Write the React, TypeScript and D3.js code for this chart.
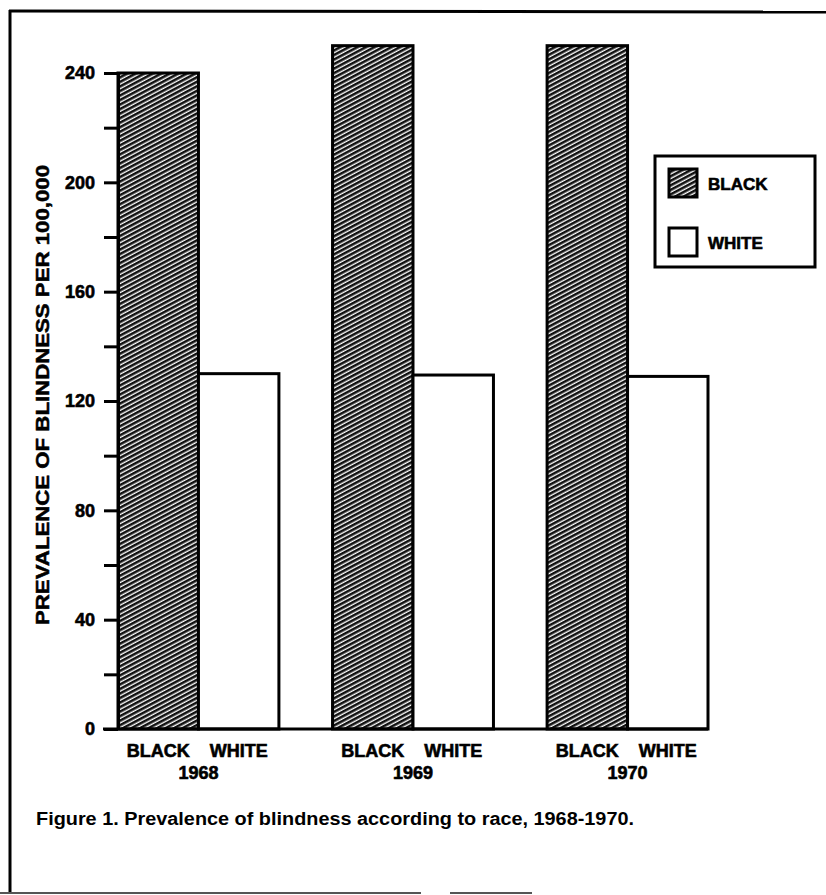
import { useEffect, useRef } from 'react';
import * as d3 from 'd3';

const years = ['1968', '1969', '1970'];
const races = ['BLACK', 'WHITE'];
const blackValues = [240, 250, 250];
const whiteValues = [130, 129.5, 129];
const yTicks = [0, 20, 40, 60, 80, 100, 120, 140, 160, 180, 200, 220, 240];
const yLabelTicks = [0, 40, 80, 120, 160, 200, 240];
const yTitle = 'PREVALENCE OF BLINDNESS PER 100,000';
const caption = 'Figure 1. Prevalence of blindness according to race, 1968-1970.';

const FONT = '"Liberation Sans", Arial, Helvetica, sans-serif';

const App = () => {
  const svgRef = useRef<SVGSVGElement>(null);

  useEffect(() => {
    const svg = d3.select(svgRef.current);
    svg.selectAll('*').remove();

    const width = 826;
    const height = 895;

    svg.attr('width', width).attr('height', height).style('background', '#fff');

    // hatch pattern for black bars
    const defs = svg.append('defs');
    const pat = defs
      .append('pattern')
      .attr('id', 'hatch')
      .attr('patternUnits', 'userSpaceOnUse')
      .attr('width', 4)
      .attr('height', 4)
      .attr('patternTransform', 'rotate(-28)');
    pat.append('rect').attr('width', 4).attr('height', 4).attr('fill', '#fff');
    pat.append('rect').attr('width', 4).attr('height', 2.6).attr('fill', '#111');

    // frame
    svg.append('line').attr('x1', 9).attr('x2', 826).attr('y1', 11).attr('y2', 12)
      .attr('stroke', '#000').attr('stroke-width', 3);
    svg.append('line').attr('x1', 10).attr('x2', 10).attr('y1', 10).attr('y2', 893)
      .attr('stroke', '#000').attr('stroke-width', 3);
    svg.append('line').attr('x1', 0).attr('x2', 421).attr('y1', 893).attr('y2', 893)
      .attr('stroke', '#555').attr('stroke-width', 2);
    svg.append('line').attr('x1', 450).attr('x2', 532).attr('y1', 893).attr('y2', 893)
      .attr('stroke', '#555').attr('stroke-width', 2);

    const y = d3.scaleLinear().domain([0, 240]).range([729, 73]);
    const x0 = d3.scaleBand().domain(years).range([118, 708]).paddingInner(0.25).paddingOuter(0);
    const x1 = d3.scaleBand().domain(races).range([0, x0.bandwidth()]).padding(0);

    const rows = years.map((yr, i) => ({ year: yr, BLACK: blackValues[i], WHITE: whiteValues[i] }));

    // bars
    const groups = svg
      .selectAll('.grp')
      .data(rows)
      .enter()
      .append('g')
      .attr('class', 'grp')
      .attr('transform', d => `translate(${x0(d.year)},0)`);

    groups
      .selectAll('rect')
      .data(d => races.map(r => ({ race: r, value: d[r as 'BLACK' | 'WHITE'] })))
      .enter()
      .append('rect')
      .attr('x', d => x1(d.race)!)
      .attr('y', d => y(d.value))
      .attr('width', x1.bandwidth())
      .attr('height', d => y(0) - y(d.value))
      .attr('fill', d => (d.race === 'BLACK' ? 'url(#hatch)' : '#fff'))
      .attr('stroke', '#000')
      .attr('stroke-width', 3);

    // y axis
    const yAxis = d3
      .axisLeft(y)
      .tickValues(yTicks)
      .tickSize(14)
      .tickSizeOuter(0)
      .tickPadding(9)
      .tickFormat(d => (yLabelTicks.includes(d as number) ? String(d) : ''));

    const ag = svg.append('g').attr('transform', 'translate(118,0)').call(yAxis);
    ag.select('.domain').attr('stroke', '#000').attr('stroke-width', 3);
    ag.selectAll('.tick line').attr('stroke', '#000').attr('stroke-width', 3);
    ag.selectAll('.tick text')
      .attr('font-family', FONT)
      .attr('font-weight', 'bold')
      .attr('font-size', 18)
      .attr('fill', '#000')
      .attr('stroke', '#000')
      .attr('stroke-width', 0.6);

    // baseline
    svg.append('line')
      .attr('x1', 103)
      .attr('x2', x0(years[years.length - 1])! + x0.bandwidth())
      .attr('y1', y(0))
      .attr('y2', y(0))
      .attr('stroke', '#000')
      .attr('stroke-width', 3);

    // y title
    svg.append('text')
      .attr('transform', 'translate(49,395) rotate(-90)')
      .attr('text-anchor', 'middle')
      .attr('font-family', FONT)
      .attr('font-weight', 'bold')
      .attr('font-size', 18)
      .attr('stroke', '#000')
      .attr('stroke-width', 0.5)
      .attr('textLength', 460)
      .attr('lengthAdjust', 'spacingAndGlyphs')
      .text(yTitle);

    // category labels
    groups
      .selectAll('.race-label')
      .data(races)
      .enter()
      .append('text')
      .attr('class', 'race-label')
      .attr('x', d => x1(d)! + x1.bandwidth() / 2)
      .attr('y', 757)
      .attr('text-anchor', 'middle')
      .attr('font-family', FONT)
      .attr('font-weight', 'bold')
      .attr('font-size', 18)
      .attr('stroke', '#000')
      .attr('stroke-width', 0.6)
      .text(d => d);

    groups
      .append('text')
      .attr('x', x0.bandwidth() / 2)
      .attr('y', 779)
      .attr('text-anchor', 'middle')
      .attr('font-family', FONT)
      .attr('font-weight', 'bold')
      .attr('font-size', 18)
      .attr('stroke', '#000')
      .attr('stroke-width', 0.6)
      .text(d => d.year);

    // legend
    const lg = svg.append('g').attr('transform', 'translate(655,156)');
    lg.append('rect').attr('width', 160).attr('height', 111)
      .attr('fill', '#fff').attr('stroke', '#000').attr('stroke-width', 3);
    races.forEach((r, i) => {
      lg.append('rect')
        .attr('x', 14)
        .attr('y', 13 + i * 59)
        .attr('width', 28)
        .attr('height', 28)
        .attr('fill', r === 'BLACK' ? 'url(#hatch)' : '#fff')
        .attr('stroke', '#000')
        .attr('stroke-width', 3);
      lg.append('text')
        .attr('x', 53)
        .attr('y', 34 + i * 59)
        .attr('font-family', FONT)
        .attr('font-weight', 'bold')
        .attr('font-size', 17)
        .attr('stroke', '#000')
        .attr('stroke-width', 0.6)
        .text(r);
    });

    // caption
    svg.append('text')
      .attr('x', 36)
      .attr('y', 825)
      .attr('font-family', FONT)
      .attr('font-weight', 'bold')
      .attr('font-size', 18)
      .attr('textLength', 598)
      .attr('lengthAdjust', 'spacingAndGlyphs')
      .text(caption);
  }, []);

  return (
    <div style={{ position: 'absolute', left: 0, top: 0 }}>
      <svg ref={svgRef}></svg>
    </div>
  );
};

export default App;
